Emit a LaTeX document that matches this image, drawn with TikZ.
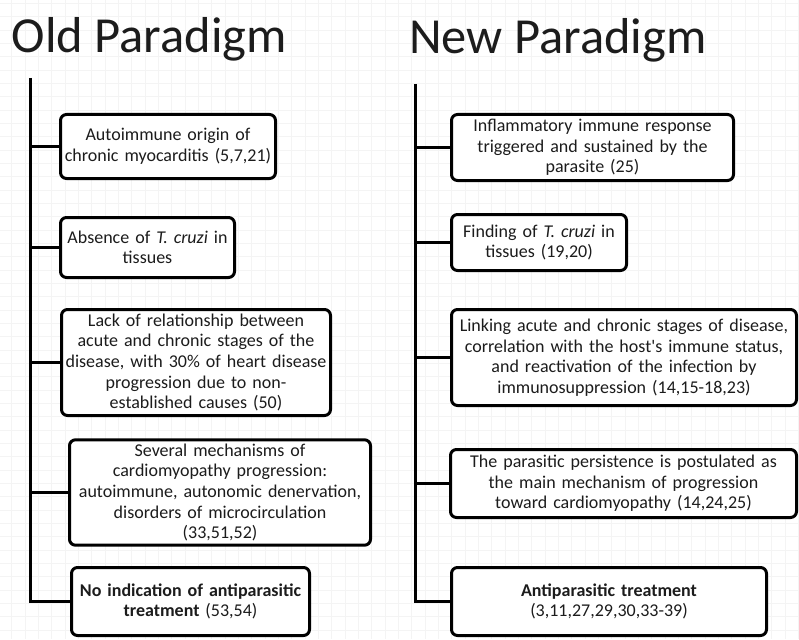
\documentclass[tikz,border=0pt]{standalone}
\usepackage{fontspec}
\setmainfont{Carlito}
\definecolor{gridgrey}{RGB}{244, 244, 244}
\definecolor{textblack}{RGB}{28, 28, 28}
\usepackage{tikz}
\usetikzlibrary{positioning, calc}
\tikzset{
  paradigmbox/.style={draw=black, line width=3pt, rounded corners=6pt, fill=white,
                      align=center, inner sep=4pt, text=textblack,
                      font={\fontsize{18}{20.6}\selectfont}},
  spine/.style={line width=3pt, black, line join=miter},
  paradigmtitle/.style={font={\fontsize{50.5}{60}\selectfont}, text=textblack,
                        inner sep=0pt, anchor=base west}
}

\begin{document}
\begin{tikzpicture}[x=1pt, y=-1pt]
                    \useasboundingbox (0,0) rectangle (799,639);
                    \foreach \gx in {0,...,59} \draw[gridgrey, line width=0.8pt] (11.7+\gx*13.333, 0) -- ++(0,639);
                    \foreach \gy in {0,...,47} \draw[gridgrey, line width=0.8pt] (0, 3.3+\gy*13.333) -- ++(799,0);
                    \node[paradigmtitle] (oldtitle) at (11.5,53) {Old Paradigm};
                    \node[paradigmtitle] (newtitle) at (409,54) {New Paradigm};
                    \node[paradigmbox, text width=207pt, minimum height=64pt] (old1) at (168,146.5)
                        {Autoimmune origin of\\chronic myocarditis (5,7,21)};
                    \node[paradigmbox, text width=166pt, minimum height=60pt] (old2) at (147.5,247.5)
                        {Absence of \textit{T. cruzi} in\\tissues};
                    \node[paradigmbox, text width=261pt, minimum height=106pt] (old3) at (196,362.5)
                        {Lack of relationship between\\acute and chronic stages of the\\disease, with 30\% of heart disease\\progression due to non-\\established causes (50)};
                    \node[paradigmbox, text width=293pt, minimum height=98pt] (old4) at (220,492.5)
                        {Several mechanisms of\\cardiomyopathy progression:\\autoimmune, autonomic denervation,\\disorders of microcirculation\\(33,51,52)};
                    \node[paradigmbox, text width=230pt, minimum height=68pt] (old5) at (190.5,601.5)
                        {\textbf{No indication of antiparasitic}\\\textbf{treatment} (53,54)};
                    \node[paradigmbox, text width=274pt, minimum height=66pt] (new1) at (592.5,147.5)
                        {Inflammatory immune response\\triggered and sustained by the\\parasite (25)};
                    \node[paradigmbox, text width=167pt, minimum height=56pt] (new2) at (539,242.5)
                        {Finding of \textit{T. cruzi} in\\tissues (19,20)};
                    \node[paradigmbox, text width=337pt, minimum height=96pt] (new3) at (624,357.5)
                        {Linking acute and chronic stages of disease,\\correlation with the host\textquotesingle s immune status,\\and reactivation of the infection by\\immunosuppression (14,15-18,23)};
                    \node[paradigmbox, text width=338pt, minimum height=68pt] (new4) at (623.5,483.5)
                        {The parasitic persistence is postulated as\\the main mechanism of progression\\toward cardiomyopathy (14,24,25)};
                    \node[paradigmbox, text width=307pt, minimum height=68pt] (new5) at (609,601.5)
                        {\textbf{Antiparasitic treatment}\\(3,11,27,29,30,33-39)};
                    \coordinate (oldtop) at (30,78);
                    \coordinate (newtop) at (415,84);
                    \draw[spine] (oldtop) -- (oldtop |- old5.west) -- (old5.west);
                    \draw[spine] (newtop) -- (newtop |- new5.west) -- (new5.west);
                    \foreach \k in {1,...,4} {
                        \draw[spine] (oldtop |- old\k.west) -- (old\k.west);
                        \draw[spine] (newtop |- new\k.west) -- (new\k.west);
                    }
                \end{tikzpicture}
\end{document}
